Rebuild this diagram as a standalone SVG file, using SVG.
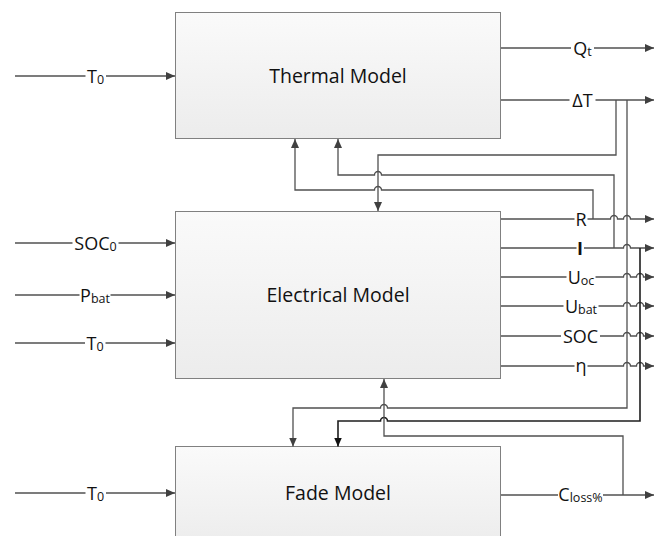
<svg xmlns="http://www.w3.org/2000/svg" width="655" height="536" viewBox="0 0 655 536">
<style>
.box{stroke:#808080;stroke-width:1;fill:url(#g)}
.title{font-family:"Open Sans","Liberation Sans",sans-serif;font-size:19.5px;fill:#111;text-anchor:middle}
.c{fill:none;stroke:#505050;stroke-width:1.3}
.cd{fill:none;stroke:#1e1e1e;stroke-width:1.6}
.lab{font-family:"Open Sans","Liberation Sans",sans-serif;font-size:18px;fill:#111;text-anchor:middle}
.sub{font-size:12.5px}
.bg{fill:#fff}
</style>
<defs>
<linearGradient id="g" x1="0" y1="0" x2="0" y2="1">
<stop offset="0" stop-color="#fafafa"/>
<stop offset="1" stop-color="#ececec"/>
</linearGradient>
<marker id="a" viewBox="0 0 9 8" refX="9" refY="4" markerWidth="9" markerHeight="8" markerUnits="userSpaceOnUse" orient="auto"><path d="M0,0 L9,4 L0,8 z" fill="#404040"/></marker>
<marker id="ad" viewBox="0 0 9 8" refX="9" refY="4" markerWidth="9" markerHeight="8" markerUnits="userSpaceOnUse" orient="auto"><path d="M0,0 L9,4 L0,8 z" fill="#111"/></marker>
</defs>

<g id="thermal">
<rect class="box" x="175.5" y="12.5" width="325" height="126"/>
<text class="title" x="338" y="82.5">Thermal Model</text>
</g>
<g id="electrical">
<rect class="box" x="175.5" y="211.5" width="325" height="167"/>
<text class="title" x="338" y="302">Electrical Model</text>
</g>
<g id="fade">
<rect class="box" x="175.5" y="446.5" width="325" height="100"/>
<text class="title" x="338" y="500">Fade Model</text>
</g>

<g id="connectors">
<path class="c" d="M15,76 H175" marker-end="url(#a)"/>
<path class="c" d="M15,243 H175" marker-end="url(#a)"/>
<path class="c" d="M15,295 H175" marker-end="url(#a)"/>
<path class="c" d="M15,343 H175" marker-end="url(#a)"/>
<path class="c" d="M15,493 H175" marker-end="url(#a)"/>

<path class="c" d="M501,48 H654" marker-end="url(#a)"/>
<path class="c" d="M501,100 H654" marker-end="url(#a)"/>
<path class="c" d="M501,219 H610.5 a3.5,3.5 0 0 1 7,0 H623.5 a3.5,3.5 0 0 1 7,0 H654" marker-end="url(#a)"/>
<path class="c" d="M501,248 H623.5 a3.5,3.5 0 0 1 7,0 H654" marker-end="url(#a)"/>
<path class="c" d="M501,277 H623.5 a3.5,3.5 0 0 1 7,0 H636.5 a3.5,3.5 0 0 1 7,0 H654" marker-end="url(#a)"/>
<path class="c" d="M501,306 H623.5 a3.5,3.5 0 0 1 7,0 H636.5 a3.5,3.5 0 0 1 7,0 H654" marker-end="url(#a)"/>
<path class="c" d="M501,336 H623.5 a3.5,3.5 0 0 1 7,0 H636.5 a3.5,3.5 0 0 1 7,0 H654" marker-end="url(#a)"/>
<path class="c" d="M501,366 H623.5 a3.5,3.5 0 0 1 7,0 H636.5 a3.5,3.5 0 0 1 7,0 H654" marker-end="url(#a)"/>
<path class="c" d="M501,495 H654" marker-end="url(#a)"/>

<path class="c" d="M616,100 V155 H378 V211" marker-end="url(#a)"/>
<path class="c" d="M627,100 V408 H387.5 a3.5,3.5 0 0 0 -7,0 H293 V446.5" marker-end="url(#a)"/>
<path class="c" d="M593,219 V190 H381.5 a3.5,3.5 0 0 0 -7,0 H295 V139" marker-end="url(#a)"/>
<path class="c" d="M614,248 V175 H381.5 a3.5,3.5 0 0 0 -7,0 H338 V139" marker-end="url(#a)"/>
<path class="cd" d="M640,248 V421 H387.5 a3.5,3.5 0 0 0 -7,0 H338 V446.5" marker-end="url(#ad)"/>
<path class="c" d="M623,495 V436 H384 V379" marker-end="url(#a)"/>

<rect class="bg" x="85.5" y="73" width="20.5" height="6"/>
<text class="lab" x="95.5" y="82.5">T<tspan class="sub" dy="1.5">0</tspan></text>
<rect class="bg" x="72.5" y="240" width="46" height="6"/>
<text class="lab" x="95.5" y="249.5">SOC<tspan class="sub" dy="1.5">0</tspan></text>
<rect class="bg" x="79.5" y="292" width="31" height="6"/>
<text class="lab" x="95" y="301.5">P<tspan class="sub" dy="1.5">bat</tspan></text>
<rect class="bg" x="85" y="340" width="20.5" height="6"/>
<text class="lab" x="95" y="349.5">T<tspan class="sub" dy="1.5">0</tspan></text>
<rect class="bg" x="85.5" y="490" width="20.5" height="6"/>
<text class="lab" x="95.5" y="499.5">T<tspan class="sub" dy="1.5">0</tspan></text>

<rect class="bg" x="571" y="45" width="23" height="6"/>
<text class="lab" x="582.5" y="54.5">Q<tspan class="sub" dy="1">t</tspan></text>
<rect class="bg" x="569.5" y="97" width="26" height="6"/>
<text class="lab" x="582.5" y="106.5">ΔT</text>
<rect class="bg" x="574.5" y="216" width="13" height="6"/>
<text class="lab" x="581" y="225.5">R</text>
<rect class="bg" x="576.5" y="245" width="7.5" height="6"/>
<text class="lab" x="580" y="255" font-weight="bold" font-size="20">I</text>
<rect class="bg" x="566.5" y="274" width="29" height="6"/>
<text class="lab" x="581" y="283.5">U<tspan class="sub" dy="1.5">oc</tspan></text>
<rect class="bg" x="563.5" y="303" width="35" height="6"/>
<text class="lab" x="581" y="312.5">U<tspan class="sub" dy="1.5">bat</tspan></text>
<rect class="bg" x="561" y="333" width="39" height="6"/>
<text class="lab" x="580.5" y="342.5">SOC</text>
<rect class="bg" x="574.5" y="363" width="13" height="6"/>
<text class="lab" x="581" y="372">η</text>
<rect class="bg" x="558" y="492" width="45" height="6"/>
<text class="lab" x="580.5" y="501">C<tspan class="sub" dy="1">loss%</tspan></text>
</g>
</svg>
